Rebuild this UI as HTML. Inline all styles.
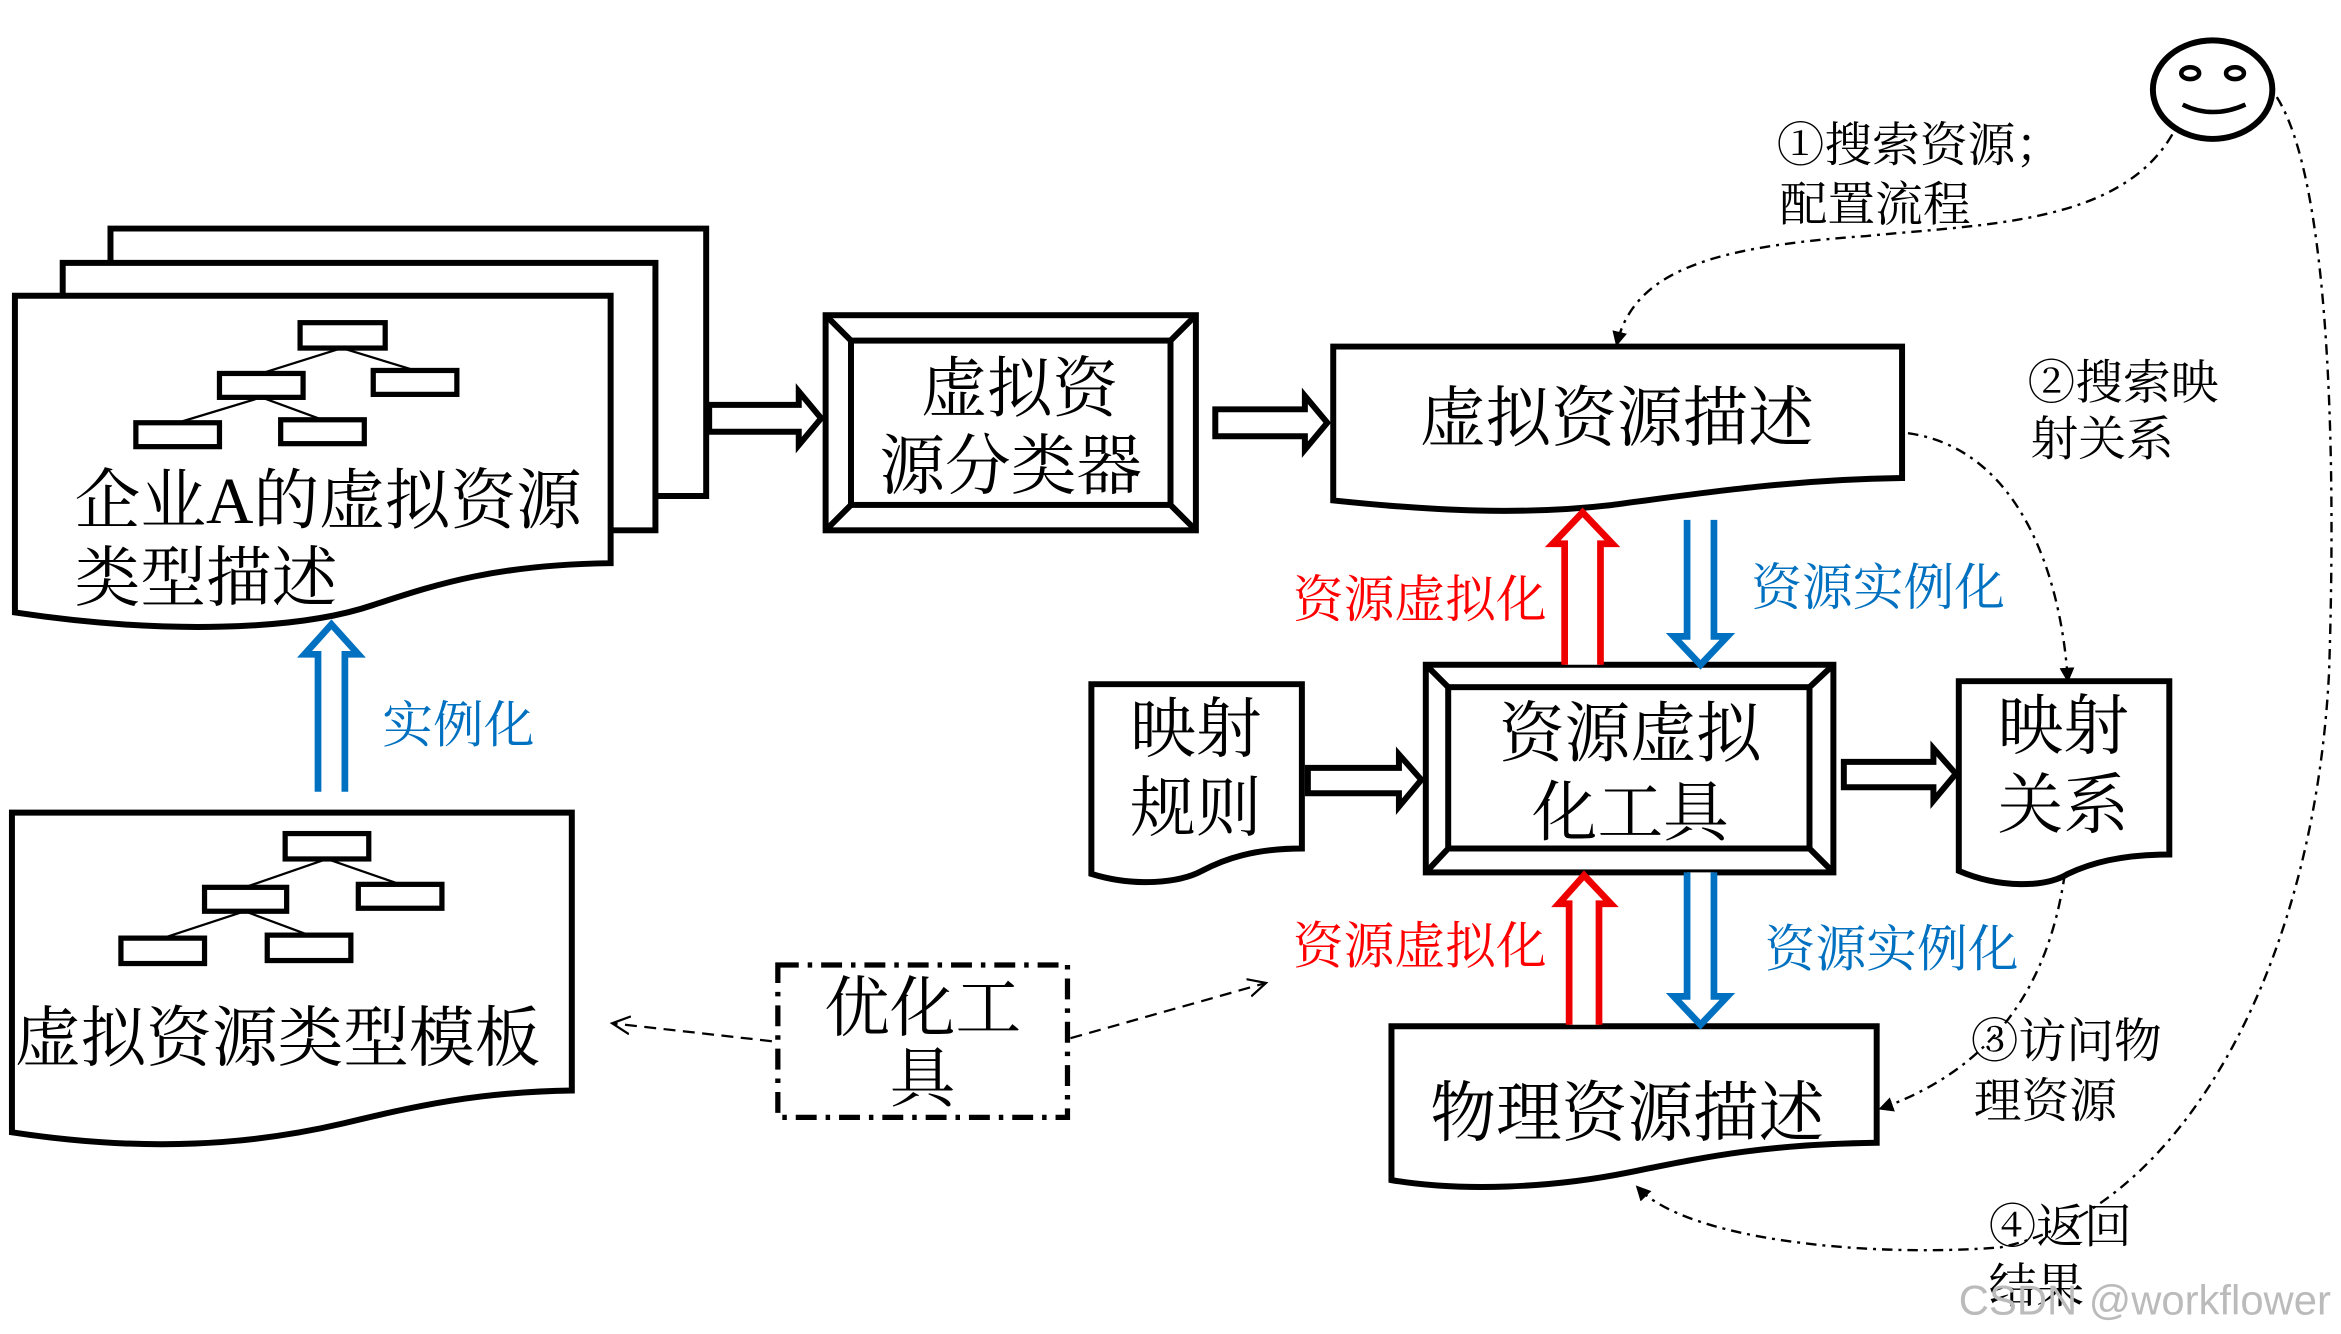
<!DOCTYPE html>
<html><head><meta charset="utf-8"><style>
html,body{margin:0;padding:0;background:#fff}
svg{display:block}
text{font-family:"Liberation Serif","Noto Serif CJK SC","Noto Sans CJK SC",serif}
</style></head><body>
<svg width="2341" height="1334" viewBox="0 0 1568 893" preserveAspectRatio="none" xmlns="http://www.w3.org/2000/svg">
<defs>
<marker id="ah" markerWidth="10" markerHeight="10" refX="8" refY="5" orient="auto" markerUnits="userSpaceOnUse"><path d="M0,0 L10,5 L0,10 z" fill="#000"/></marker>
<marker id="oh" markerWidth="14" markerHeight="14" refX="12" refY="7" orient="auto" markerUnits="userSpaceOnUse"><path d="M0,1 L12,7 L0,13" fill="none" stroke="#000" stroke-width="1.5"/></marker>
</defs>
<g fill="#fff" stroke="#000" stroke-width="4">
<path d="M74,176 V153 H473 V332 H439" fill="none"/>
<path d="M42,198 V176 H439 V355 H409" fill="none"/>
<path d="M10,198 H409 V377 C330,378 290,392 250,405 C200,422 110,425 10,410 Z"/>
<rect x="553" y="211" width="248" height="144"/>
<rect x="570" y="228" width="214" height="110"/>
<path d="M553,211 L570,228 M801,211 L784,228 M553,355 L570,338 M801,355 L784,338" fill="none"/>
<path d="M893,232 H1274 V320 C1200,321 1140,330 1080,338 C1020,345 960,342 893,335 Z"/>
<rect x="955" y="445" width="273" height="139"/>
<rect x="970" y="460" width="242" height="108"/>
<path d="M955,445 L970,460 M1228,445 L1212,460 M955,584 L970,568 M1228,584 L1212,568" fill="none"/>
<path d="M731,458 H872 V568 C840,568 820,575 805,583 C790,591 760,594 731,585 Z"/>
<path d="M1312,456 H1453 V572 C1420,572 1400,578 1385,585 C1370,594 1340,595 1312,583 Z"/>
<path d="M932,687 H1257 V765 C1180,766 1140,775 1090,785 C1040,795 980,798 932,790 Z"/>
<path d="M8,544 H383 V730 C320,731 280,740 230,752 C170,766 100,772 8,758 Z"/>
</g>
<g fill="#fff" stroke="#000" stroke-width="3.5">
<rect x="201" y="216" width="57" height="17"/><rect x="147" y="250" width="56" height="16"/><rect x="250" y="248" width="56" height="16"/><rect x="91" y="283" width="56" height="16"/><rect x="188" y="281" width="56" height="16"/>
<rect x="191" y="558" width="56" height="17"/><rect x="137" y="594" width="55" height="16"/><rect x="240" y="592" width="56" height="16"/><rect x="81" y="628" width="56" height="17"/><rect x="179" y="626" width="56" height="17"/>
</g>
<g stroke="#000" stroke-width="1.5" fill="none">
<path d="M229,233 L175,250 M229,233 L278,248 M175,266 L119,283 M175,266 L216,281"/>
<path d="M219,575 L164,594 M219,575 L268,592 M164,610 L109,628 M164,610 L207,626"/>
</g>
<g fill="#fff" stroke="#000" stroke-width="4">
<path d="M475,271 H535 V262 L550,280 L535,298 V289 H475 Z"/>
<path d="M814,274 H874 V265 L889,283 L874,301 V292 H814 Z"/>
<path d="M876,514 H937 V505 L952,522 L937,540 V531 H876 Z"/>
<path d="M1235,510 H1295 V501 L1310,518 L1295,536 V527 H1235 Z"/>
</g>
<g fill="#fff" stroke="#e00" stroke-width="4.5">
<path d="M1048,445 V364 H1040 L1060,343 L1080,364 H1072 V445"/>
<path d="M1051,686 V605 H1044 L1061,586 L1079,605 H1071 V686"/>
</g>
<g fill="#fff" stroke="#0070c0" stroke-width="4.5">
<path d="M1130,348 V426 H1121 L1139,445 L1157,426 H1148 V348"/>
<path d="M1130,584 V667 H1121 L1139,686 L1157,667 H1148 V584"/>
<path d="M213,530 V438 H204 L222,418 L240,438 H231 V530"/>
</g>
<rect x="521" y="646" width="194" height="102" fill="none" stroke="#000" stroke-width="3.5" stroke-dasharray="14,6,3,6"/>
<g stroke="#000" stroke-width="1.5" fill="none" stroke-dasharray="8,5">
<path d="M517,697 L410,685" marker-end="url(#oh)"/>
<path d="M717,695 L848,658" marker-end="url(#oh)"/>
</g>
<ellipse cx="1482" cy="60" rx="40" ry="33" fill="#fff" stroke="#000" stroke-width="4"/>
<ellipse cx="1467" cy="49" rx="6" ry="4" fill="none" stroke="#000" stroke-width="3"/>
<ellipse cx="1497" cy="49" rx="6" ry="4" fill="none" stroke="#000" stroke-width="3"/>
<path d="M1462,70 Q1482,80 1504,70" fill="none" stroke="#000" stroke-width="3"/>
<g stroke="#000" stroke-width="1.6" fill="none" stroke-dasharray="7,4,2,4">
<path d="M1455,90 C1420,150 1330,150 1250,158 C1150,165 1095,180 1083,230" marker-end="url(#ah)"/>
<path d="M1278,290 C1350,300 1380,380 1385,455" marker-end="url(#ah)"/>
<path d="M1383,585 C1375,640 1350,710 1260,742" marker-end="url(#ah)"/>
<path d="M1525,65 C1560,120 1565,300 1560,450 C1550,650 1460,810 1340,835 C1250,842 1130,830 1097,795" marker-end="url(#ah)"/>
</g>
<g font-size="44" fill="#000">
<text x="50" y="350">企业A的虚拟资源</text>
<text x="50" y="402">类型描述</text>
<text x="683" y="275" text-anchor="middle">虚拟资</text>
<text x="677" y="327" text-anchor="middle">源分类器</text>
<text x="1083" y="295" text-anchor="middle">虚拟资源描述</text>
<text x="1092" y="506" text-anchor="middle">资源虚拟</text>
<text x="1092" y="559" text-anchor="middle">化工具</text>
<text x="801" y="503" text-anchor="middle">映射</text>
<text x="801" y="556" text-anchor="middle">规则</text>
<text x="1382" y="501" text-anchor="middle">映射</text>
<text x="1382" y="554" text-anchor="middle">关系</text>
<text x="1090" y="760" text-anchor="middle">物理资源描述</text>
<text x="10" y="710">虚拟资源类型模板</text>
<text x="618" y="690" text-anchor="middle">优化工</text>
<text x="618" y="737" text-anchor="middle">具</text>
</g>
<g font-size="34">
<text x="866" y="413" fill="#f00">资源虚拟化</text>
<text x="1173" y="405" fill="#0070c0">资源实例化</text>
<text x="866" y="645" fill="#f00">资源虚拟化</text>
<text x="1182" y="647" fill="#0070c0">资源实例化</text>
<text x="256" y="497" fill="#0070c0">实例化</text>
</g>
<g font-size="32" fill="#000">
<text x="1190" y="108">①搜索资源；</text>
<text x="1192" y="148">配置流程</text>
<text x="1358" y="267">②搜索映</text>
<text x="1360" y="305">射关系</text>
<text x="1320" y="708">③访问物</text>
<text x="1322" y="748">理资源</text>
<text x="1332" y="832">④返回</text>
<text x="1332" y="872">结果</text>
</g>
<text x="1312" y="880" font-size="28" fill="#bbb" style="font-family:'Liberation Sans',sans-serif">CSDN @workflower</text>
</svg>
</body></html>
